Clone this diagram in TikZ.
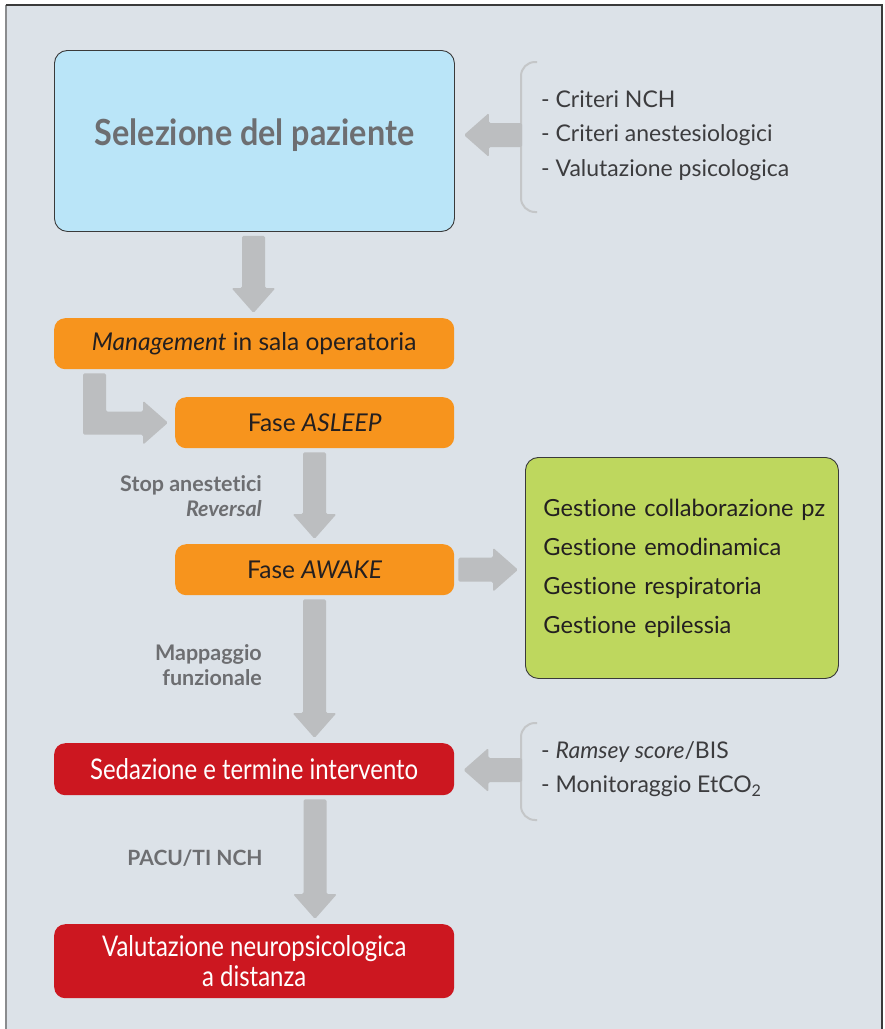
\documentclass[tikz,border=0pt]{standalone}
\usepackage{fontspec}
\setmainfont{Lato}[Ligatures=NoCommon]
\newfontfamily\condfont[FakeStretch=0.84,Ligatures=NoCommon]{Lato}
\newfontfamily\titlefont[FakeStretch=0.9,Ligatures=NoCommon]{Lato}
\usetikzlibrary{calc}
\definecolor{bg}{HTML}{DCE2E8}
\definecolor{framedark}{HTML}{3A3A3A}
\definecolor{frameleft}{HTML}{8A8C8E}
\definecolor{bluefill}{HTML}{BAE5F8}
\definecolor{orangefill}{HTML}{F7941D}
\definecolor{greenfill}{HTML}{BED75E}
\definecolor{redfill}{HTML}{CC1720}
\definecolor{arrowgray}{HTML}{BCBEC0}
\definecolor{bracegray}{HTML}{C4C6C8}
\definecolor{labelgray}{HTML}{6D6E71}
\definecolor{textdark}{HTML}{231F20}
\definecolor{listgray}{HTML}{3C3C3E}
\tikzset{
  boxbase/.style={rectangle, anchor=north west, inner sep=0pt, align=center},
  bluebox/.style={boxbase, fill=bluefill, draw=framedark, line width=0.9pt, rounded corners=13pt},
  orangebox/.style={boxbase, fill=orangefill, rounded corners=11pt, text=textdark,
    font=\fontsize{24.5}{28}\selectfont},
  greenbox/.style={boxbase, fill=greenfill, draw=framedark, line width=0.9pt, rounded corners=13pt,
    text=textdark, align=left, text width=277pt, font=\fontsize{23.6}{39}\selectfont},
  redbox/.style={boxbase, fill=redfill, rounded corners=11pt, text=white,
    font=\condfont\fontsize{28.5}{30}\selectfont},
  sidelabel/.style={text=labelgray, font=\bfseries\fontsize{21.5}{25}\selectfont, align=right, inner sep=0pt},
  listtext/.style={text=listgray, font=\fontsize{23}{34.5}\selectfont, align=left, inner sep=0pt, anchor=west},
  brace/.style={draw=bracegray, line width=2pt, rounded corners=14pt},
}
\newcommand\fatdown[3]{%
  \fill[arrowgray, rounded corners=1.5pt] let \p1=(#2.south), \p2=(#3.north) in
  (#1pt-11.5pt,\y1-4pt) -- (#1pt+11.5pt,\y1-4pt) -- (#1pt+11.5pt,\y2+30pt) --
  (#1pt+22pt,\y2+30pt) -- (#1pt,\y2+5pt) -- (#1pt-22pt,\y2+30pt) --
  (#1pt-11.5pt,\y2+30pt) -- cycle;}
\newcommand\fatleft[2]{%
  \fill[arrowgray, rounded corners=1.5pt] let \p1=(#1), \p2=(#2.east) in
  (\x1,\y1+12pt) -- (\x2+34pt,\y1+12pt) -- (\x2+34pt,\y1+22pt) -- (\x2+9pt,\y1) --
  (\x2+34pt,\y1-22pt) -- (\x2+34pt,\y1-12pt) -- (\x1,\y1-12pt) -- cycle;}
\begin{document}
\begin{tikzpicture}[x=1pt, y=-1pt]
\useasboundingbox (0,0) rectangle (885,1029);
% frame
\fill[bg] (6,5) rectangle (882,1029);
\draw[frameleft, line width=1.3pt] (6,5) -- (6,1029);
\draw[framedark, line width=1.5pt] (5.5,5) -- (882,5) -- (882,1029);

% boxes
\node[bluebox, minimum width=400pt, minimum height=181pt] (sel) at (54,50)
  {\raisebox{17pt}{\textcolor{labelgray}{\titlefont\bfseries\fontsize{36}{40}\selectfont Selezione del paziente}}};
\node[orangebox, minimum width=400pt, minimum height=51pt] (mgmt) at (54,318)
  {\textit{Management} in sala operatoria};
\node[orangebox, minimum width=279pt, minimum height=51pt] (asleep) at (175,397)
  {Fase \textit{ASLEEP}};
\node[orangebox, minimum width=279pt, minimum height=51pt] (awake) at (175,544)
  {Fase \textit{AWAKE}};
\node[greenbox, minimum width=313pt, minimum height=221pt] (gest) at (525,457)
  {\mbox{Gestione collaborazione pz}\\ Gestione emodinamica\\ Gestione respiratoria\\ Gestione epilessia};
\node[redbox, minimum width=400pt, minimum height=52pt] (sed) at (54,743)
  {Sedazione e termine intervento};
\node[redbox, minimum width=400pt, minimum height=74pt] (val) at (54,924)
  {Valutazione neuropsicologica\\ a distanza};

% side lists with braces
\node[listtext] (crit) at (541,135.5)
  {- Criteri NCH\\ - Criteri anestesiologici\\ - Valutazione psicologica};
\draw[brace] (537,62) -- (521,62) -- (521,212) -- (537,212);
\coordinate (critarrow) at (522,135);

\node[listtext] (mon) at (541,769)
  {- \textit{Ramsey score}/BIS\\ - Monitoraggio EtCO\textsubscript{2}};
\draw[brace] (537,723) -- (521,723) -- (521,820) -- (537,820);
\coordinate (monarrow) at (522,770);

% labels
\node[sidelabel, anchor=east] (lab1) at (262,496.5) {Stop anestetici\\ \textit{Reversal}};
\node[sidelabel, anchor=east] (lab2) at (262,665.5) {Mappaggio\\ funzionale};
\node[text=labelgray, font=\bfseries\fontsize{21}{25}\selectfont, inner sep=0pt] (lab3) at (195,858) {PACU/TI NCH};

% arrows
\fatdown{253.5}{sel}{mgmt}
\fatdown{314.5}{asleep}{awake}
\fatdown{314.5}{awake}{sed}
\fatdown{315}{sed}{val}
\fatleft{critarrow}{sel}
\fatleft{monarrow}{sed}
\fill[arrowgray, rounded corners=1.5pt] let \p1=(awake.east), \p2=(gest.west) in
  (\x1+4pt,\y1+12pt) -- (\x2-32pt,\y1+12pt) -- (\x2-32pt,\y1+22pt) -- (\x2-7pt,\y1) --
  (\x2-32pt,\y1-22pt) -- (\x2-32pt,\y1-12pt) -- (\x1+4pt,\y1-12pt) -- cycle;
\fill[arrowgray, rounded corners=1.5pt] let \p1=(mgmt.south west), \p2=(asleep.west) in
  (\x1+29pt,\y1-4pt) -- (\x1+52pt,\y1-4pt) -- (\x1+52pt,\y2+11pt) -- (\x2-32pt,\y2+11pt) --
  (\x2-32pt,\y2+22pt) -- (\x2-7pt,\y2) -- (\x2-32pt,\y2-22pt) -- (\x2-32pt,\y2-12pt) --
  (\x1+29pt,\y2-12pt) -- cycle;
\end{tikzpicture}
\end{document}
